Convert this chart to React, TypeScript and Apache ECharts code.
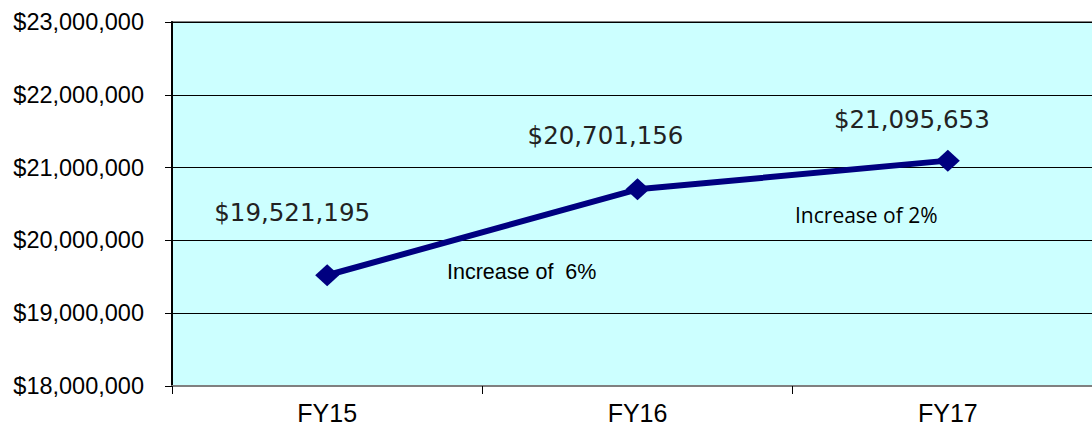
import React, { useEffect, useRef } from "react";
import * as echarts from "echarts";

const categories = ["FY15", "FY16", "FY17"];
const budgetValues = [19521195, 20701156, 21095653];
const yTicks = [18000000, 19000000, 20000000, 21000000, 22000000, 23000000];
const increaseNotes = ["Increase of  6%", "Increase of 2%"];

const fmtMoney = (v: number) => "$" + v.toLocaleString("en-US");

export default function App() {
  const ref = useRef<HTMLDivElement>(null);
  useEffect(() => {
    document.body.style.margin = "0";
    const chart = echarts.init(ref.current!, null, { renderer: "svg" });
    const labelOffsets = [
      [-35, -34],
      [-32, -25],
      [-36, -13],
    ];
    chart.setOption({
      animation: false,
      grid: {
        left: 172,
        top: 22,
        width: 931,
        bottom: 48,
        outerBoundsMode: "none",
        containLabel: false,
        show: true,
        backgroundColor: "#CCFFFF",
        borderColor: "#808080",
        borderWidth: 2,
      },
      xAxis: {
        type: "category",
        data: categories,
        boundaryGap: true,
        axisLine: { lineStyle: { color: "#808080", width: 2 } },
        axisTick: { show: true, length: 8, lineStyle: { color: "#000", width: 1 } },
        axisLabel: {
          color: "#000",
          fontFamily: "Liberation Sans, Arial, sans-serif",
          fontSize: 25,
          margin: 14,
        },
      },
      yAxis: {
        type: "value",
        min: yTicks[0],
        max: yTicks[yTicks.length - 1],
        interval: 1000000,
        axisLine: { show: true, lineStyle: { color: "#000", width: 2 } },
        axisTick: { show: true, length: 7, lineStyle: { color: "#000" } },
        splitLine: { show: true, lineStyle: { color: "#000", width: 1 } },
        axisLabel: {
          color: "#000",
          fontFamily: "Liberation Sans, Arial, sans-serif",
          fontSize: 23.5,
          margin: 28,
          formatter: (v: number) => fmtMoney(v),
        },
      },
      series: [
        {
          type: "line",
          data: budgetValues.map((v, i) => ({
            value: v,
            label: { offset: labelOffsets[i] },
          })),
          lineStyle: { color: "#000080", width: 6 },
          itemStyle: { color: "#000080" },
          symbol: "diamond",
          symbolSize: [24, 22],
          label: {
            show: true,
            position: "top",
            color: "#222",
            fontFamily: "DejaVu Sans",
            fontSize: 24.5,
            formatter: (p: any) => fmtMoney(p.value),
          },
        },
      ],
      graphic: [
        {
          type: "text",
          left: 447,
          top: 261,
          style: {
            text: increaseNotes[0],
            fill: "#000",
            font: "21.5px 'Liberation Sans', Arial, sans-serif",
          },
        },
        {
          type: "text",
          left: 795,
          top: 204,
          style: {
            text: increaseNotes[1],
            fill: "#000",
            font: "21px 'Open Sans', sans-serif",
          },
        },
      ],
    });
    return () => chart.dispose();
  }, []);
  return <div ref={ref} style={{ width: 1092, height: 434 }} />;
}
